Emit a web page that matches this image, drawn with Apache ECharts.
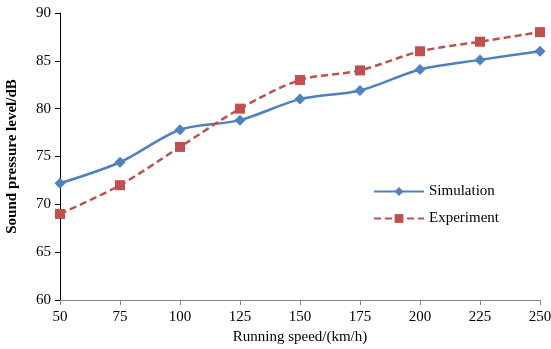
<!DOCTYPE html>
<html>
<head>
<meta charset="utf-8">
<script src="https://cdn.jsdelivr.net/npm/echarts@6/dist/echarts.min.js"></script>
<style>
html, body { margin: 0; padding: 0; background: #fff; }
#myChart { width: 551px; height: 349px; }
</style>
</head>
<body>
<div id="myChart"></div>
<script>
var speeds = ['50', '75', '100', '125', '150', '175', '200', '225', '250'];
var simulation = [72.2, 74.4, 77.8, 78.8, 81.0, 81.9, 84.1, 85.1, 86.0];
var experiment = [69, 72, 76, 80, 83, 84, 86, 87, 88];

var font = 'Liberation Serif';
var myChart = echarts.init(document.getElementById('myChart'));
myChart.setOption({
    animation: false,
    textStyle: { fontFamily: font },
    grid: { left: 60, right: 11, top: 13, bottom: 49, outerBoundsMode: 'none' },
    legend: {
        orient: 'vertical',
        left: 368,
        top: 179,
        itemGap: 12,
        itemWidth: 50,
        itemHeight: 11,
        textStyle: { fontFamily: font, fontSize: 15, color: '#000' },
        data: ['Simulation', 'Experiment']
    },
    xAxis: {
        type: 'category',
        data: speeds,
        boundaryGap: false,
        name: 'Running speed/(km/h)',
        nameLocation: 'middle',
        nameGap: 30,
        nameTextStyle: { fontFamily: font, fontSize: 15, color: '#000' },
        axisLine: { lineStyle: { color: '#868686', width: 1 } },
        axisTick: { alignWithLabel: true, length: 5, lineStyle: { color: '#868686' } },
        axisLabel: { fontFamily: font, fontSize: 15, color: '#000', margin: 10 },
        splitLine: { show: false }
    },
    yAxis: {
        type: 'value',
        min: 60,
        max: 90,
        interval: 5,
        name: 'Sound pressure level/dB',
        nameLocation: 'middle',
        nameGap: 40,
        nameTextStyle: { fontFamily: font, fontSize: 15, color: '#000', fontWeight: 'bold' },
        axisLine: { show: true, lineStyle: { color: '#000', width: 1 } },
        axisTick: { show: true, length: 5, lineStyle: { color: '#000' } },
        axisLabel: { fontFamily: font, fontSize: 15, color: '#000', margin: 9 },
        splitLine: { show: false }
    },
    series: [
        {
            name: 'Simulation',
            type: 'line',
            data: simulation,
            smooth: 0.3,
            symbol: 'diamond',
            symbolSize: 11,
            lineStyle: { color: '#4F81BD', width: 2.5 },
            itemStyle: { color: '#4F81BD' }
        },
        {
            name: 'Experiment',
            type: 'line',
            data: experiment,
            smooth: 0.3,
            symbol: 'rect',
            symbolSize: 10,
            lineStyle: { color: '#C0504D', width: 2.5, type: [7, 4] },
            itemStyle: { color: '#C0504D' }
        }
    ]
});
</script>
</body>
</html>
